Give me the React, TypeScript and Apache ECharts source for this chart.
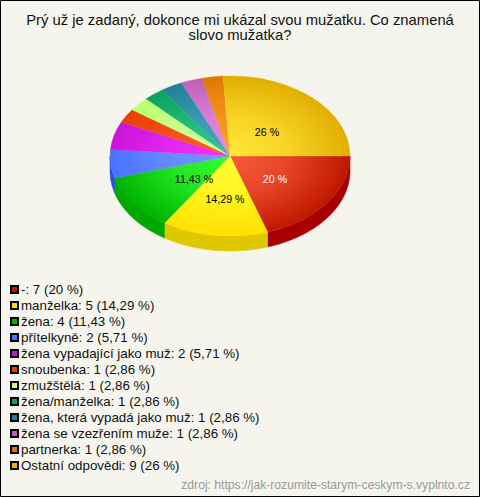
import React, { useEffect, useRef } from "react";
import * as echarts from "echarts";

const TITLE = "Prý už je zadaný, dokonce mi ukázal svou mužatku. Co znamená\nslovo mužatka?";
const SOURCE = "zdroj: https://jak-rozumite-starym-ceskym-s.vyplnto.cz";
const categories = ["-", "manželka", "žena", "přítelkyně", "žena vypadající jako muž", "snoubenka", "zmužštělá", "žena/manželka", "žena, která vypadá jako muž", "žena se vzezřením muže", "partnerka", "Ostatní odpovědi"];
const counts = [7, 5, 4, 2, 2, 1, 1, 1, 1, 1, 1, 9];
const percents = ["20", "14,29", "11,43", "5,71", "5,71", "2,86", "2,86", "2,86", "2,86", "2,86", "2,86", "26"];
const shares = [20, 14.29, 11.43, 5.71, 5.71, 2.86, 2.86, 2.86, 2.86, 2.86, 2.86, 26];
const innerColors = ["#fa5c3c", "#ffff33", "#33ff33", "#7099ff", "#f033ff", "#ff5a28", "#d0ff9a", "#30c888", "#48a8c0", "#e68ce6", "#ffa028", "#ffe838"];
const outerColors = ["#c01800", "#ffe000", "#00b400", "#4a72ff", "#c814d8", "#e84000", "#baff70", "#0fa05e", "#1f8098", "#c060b8", "#e07800", "#e2ae00"];
const sideColors = ["#a80000", "#e0c800", "#00a800", "#2a50e0", "#a000b0", "#c03000", "#a0e060", "#008048", "#106880", "#a04898", "#c06000", "#c09000"];
const legendColors = ["#c01800", "#ffe000", "#00b400", "#4a72ff", "#c814d8", "#e84000", "#c8ff80", "#0fa05e", "#1f8098", "#c060b8", "#e07800", "#e6b400"];
const labelFill = ["#ffffff", "#000000", "#000000", "", "", "", "", "", "", "", "", "#000000"];
const labelOffset: number[][] = [[45, 23], [-5, 43], [-36, 23], [], [], [], [], [], [], [], [], [37, -24]];

const CX = 230, CY = 156, RX = 120, RY = 80, DEPTH = 15;
const total = shares.reduce((a, b) => a + b, 0);

function renderSlice(i: number) {
  return (_p: any, api: any) => {
    const start = api.value(0) as number;
    const end = api.value(1) as number;
    const children: any[] = [];
    const wallStart = Math.max(start, 0);
    const wallEnd = Math.min(end, Math.PI);
    if (wallEnd > wallStart) {
      const top: number[][] = [];
      const bottom: number[][] = [];
      const n = Math.max(2, Math.ceil((wallEnd - wallStart) / 0.02));
      for (let k = 0; k <= n; k++) {
        const a = wallStart + ((wallEnd - wallStart) * k) / n;
        const x = CX + RX * Math.cos(a);
        const y = CY + RY * Math.sin(a);
        top.push([x, y]);
        bottom.unshift([x, y + DEPTH]);
      }
      children.push({ type: "polygon", shape: { points: top.concat(bottom) }, style: { fill: sideColors[i], stroke: sideColors[i], lineWidth: 0.5 } });
    }
    const mid = echarts.color.lerp(0.35, [innerColors[i], outerColors[i]]);
    const grad = {
      type: "radial", x: 0, y: 0, r: RX, global: true,
      colorStops: [{ offset: 0, color: innerColors[i] }, { offset: 0.5, color: mid }, { offset: 1, color: outerColors[i] }],
    };
    children.push({
      type: "group", x: CX, y: CY, scaleY: RY / RX,
      children: [{
        type: "sector",
        shape: { cx: 0, cy: 0, r: RX, r0: 0, startAngle: start, endAngle: end, clockwise: true },
        style: { fill: grad, stroke: grad, lineWidth: 0.4 },
      }],
    });
    if (labelOffset[i].length) {
      children.push({
        type: "text", z2: 100,
        style: {
          text: percents[i] + " %", x: CX + labelOffset[i][0], y: CY + labelOffset[i][1],
          fill: labelFill[i], font: "10.67px 'Liberation Sans', Arial, sans-serif",
          align: "center", verticalAlign: "middle",
        },
      });
    }
    return { type: "group", children };
  };
}

export default function App() {
  const ref = useRef<HTMLDivElement>(null);
  useEffect(() => {
    document.body.style.margin = "0";
    const chart = echarts.init(ref.current!, undefined, { renderer: "svg" });
    const FONT = "'Liberation Sans', Arial, sans-serif";
    let acc = 0;
    const series = categories.map((name, i) => {
      const s = (acc / total) * Math.PI * 2;
      acc += shares[i];
      const e = (acc / total) * Math.PI * 2;
      return {
        type: "custom", name, coordinateSystem: "none", silent: true,
        itemStyle: { color: legendColors[i], borderColor: "#000", borderWidth: 1 },
        renderItem: renderSlice(i),
        data: [[s, e, counts[i]]],
      };
    });
    chart.setOption({
      animation: false,
      backgroundColor: "#f5f5ee",
      title: [
        { text: TITLE, left: 240, top: 12, textAlign: "center", padding: 0, textStyle: { fontFamily: FONT, fontSize: 14.8, fontWeight: "normal", color: "#111", lineHeight: 15 } },
        { text: SOURCE, right: 10, top: 479, padding: 0, textStyle: { fontFamily: FONT, fontSize: 12.15, fontWeight: "normal", color: "#999" } },
      ],
      legend: {
        orient: "vertical", left: 10, top: 283, icon: "rect", itemWidth: 7, itemHeight: 7, itemGap: 3,
        padding: 0, selectedMode: false,
        textStyle: { fontFamily: FONT, fontSize: 13.33, color: "#111", padding: [0, 0, 0, -2], height: 13, lineHeight: 13 },
        data: categories,
        formatter: (n: string) => { const i = categories.indexOf(n); return `${n}: ${counts[i]} (${percents[i]} %)`; },
      },
      graphic: [{ type: "rect", silent: true, shape: { x: 0.5, y: 0.5, width: 479, height: 496 }, style: { fill: "none", stroke: "#000", lineWidth: 1 } }],
      series,
    });
    return () => chart.dispose();
  }, []);
  return <div ref={ref} style={{ width: 480, height: 497 }} />;
}
